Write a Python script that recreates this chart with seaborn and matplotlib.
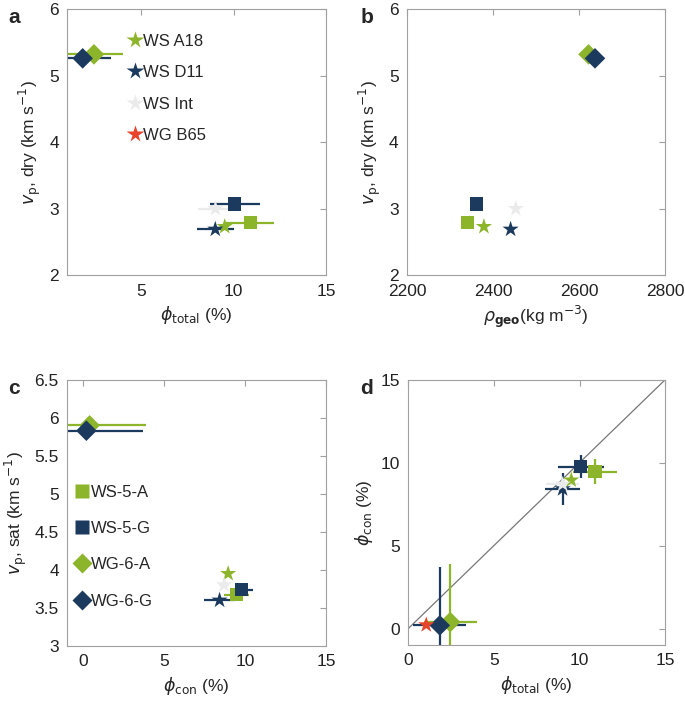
import numpy as np
import pandas as pd
import matplotlib
matplotlib.use("Agg")
import matplotlib.pyplot as plt
import seaborn as sns
from matplotlib.lines import Line2D

samples = ['WS-5-A', 'WS-5-G', 'WG-6-A', 'WG-6-G', 'WS A18', 'WS D11', 'WS Int', 'WG B65']
colors = ['#8cb52b', '#1b3a5e', '#8cb52b', '#1b3a5e', '#8cb52b', '#1b3a5e', '#ebebeb', '#e8432b']
markers = ['s', 's', 'D', 'D', '*', '*', '*', '*']

phi_total = [10.9, 10.07, 2.45, 1.84, 9.52, 9.01, 9.02, 1.05]
phi_total_err = [1.3, 1.35, 1.55, 1.55, 0.2, 1.0, 0.95, 0.0]
phi_con = [9.46, 9.77, 0.39, 0.19, 8.95, 8.42, 8.7, 0.22]
phi_con_err = [0.75, 0.7, 3.5, 3.5, 0.2, 0.95, 0.3, 0.0]
vp_dry = [2.79, 3.07, 5.32, 5.26, 2.73, 2.69, 3.0, np.nan]
vp_sat = [3.67, 3.74, 5.9, 5.83, 3.95, 3.6, 3.8, np.nan]
rho_geo = [2341, 2362, 2622, 2637, 2379, 2441, 2453, np.nan]
rho_geo_err = [8, 8, 0, 0, 0, 0, 0, 0]

df = pd.DataFrame({'sample': samples, 'phi_total': phi_total, 'phi_total_err': phi_total_err,
                   'phi_con': phi_con, 'phi_con_err': phi_con_err, 'vp_dry': vp_dry,
                   'vp_sat': vp_sat, 'rho_geo': rho_geo, 'rho_geo_err': rho_geo_err})

palette = dict(zip(samples, colors))
marker_map = dict(zip(samples, markers))
size_map = {'s': 90, 'D': 110, '*': 150}
sizes = {s: size_map[m] for s, m in zip(samples, markers)}

sns.set_style('white')
plt.rcParams['font.family'] = ['Liberation Sans', 'DejaVu Sans']
plt.rcParams['xtick.direction'] = 'in'
plt.rcParams['ytick.direction'] = 'in'

fig = plt.figure(figsize=(6.85, 7.02), dpi=100)
ax_a = fig.add_axes([0.098, 0.608, 0.378, 0.379])
ax_b = fig.add_axes([0.594, 0.608, 0.377, 0.379])
ax_c = fig.add_axes([0.098, 0.080, 0.378, 0.379])
ax_d = fig.add_axes([0.596, 0.081, 0.375, 0.378])


def panel(ax, x, y, xerr=None, yerr=None):
    sub = df.dropna(subset=[x, y])
    for _, r in sub.iterrows():
        ax.errorbar(r[x], r[y], xerr=r[xerr] if xerr else None, yerr=r[yerr] if yerr else None,
                    fmt='none', ecolor=palette[r['sample']], elinewidth=1.6, capsize=0, zorder=2)
    sns.scatterplot(data=sub, x=x, y=y, hue='sample', style='sample', size='sample',
                    palette=palette, markers=marker_map, sizes=sizes, linewidth=0,
                    legend=False, ax=ax, zorder=3)
    ax.set_xlabel('')
    ax.set_ylabel('')


def style_axes(ax):
    for sp in ax.spines.values():
        sp.set_color('#a0a0a0')
        sp.set_linewidth(0.8)
    ax.tick_params(which='both', top=True, right=True, length=4, width=0.8, pad=6,
                   color='#a0a0a0', labelcolor='#222222', labelsize=12.5)


panel(ax_a, 'phi_total', 'vp_dry', xerr='phi_total_err')
ax_a.set_xlim(1, 15)
ax_a.set_ylim(2, 6)
ax_a.set_xticks([5, 10, 15])
ax_a.set_yticks([2, 3, 4, 5, 6])
ax_a.set_xlabel(r'$\phi_\mathrm{total}$ (%)', fontsize=12.5)
ax_a.set_ylabel(r'$v_\mathrm{p}$, dry (km s$^{-1}$)', fontsize=12.5)

panel(ax_b, 'rho_geo', 'vp_dry', xerr='rho_geo_err')
ax_b.set_xlim(2200, 2800)
ax_b.set_ylim(2, 6)
ax_b.set_xticks([2200, 2400, 2600, 2800])
ax_b.set_yticks([2, 3, 4, 5, 6])
ax_b.set_xlabel(r'$\rho_\mathbf{geo}$(kg m$^{-3}$)', fontsize=12.5)
ax_b.set_ylabel(r'$v_\mathrm{p}$, dry (km s$^{-1}$)', fontsize=12.5)

panel(ax_c, 'phi_con', 'vp_sat', xerr='phi_con_err')
ax_c.set_xlim(-1, 15)
ax_c.set_ylim(3, 6.5)
ax_c.set_xticks([0, 5, 10, 15])
ax_c.set_yticks([3, 3.5, 4, 4.5, 5, 5.5, 6, 6.5])
ax_c.set_yticklabels(['3', '3.5', '4', '4.5', '5', '5.5', '6', '6.5'])
ax_c.set_xlabel(r'$\phi_\mathrm{con}$ (%)', fontsize=12.5)
ax_c.set_ylabel(r'$v_\mathrm{p}$, sat (km s$^{-1}$)', fontsize=12.5)

ax_d.plot([0, 15], [0, 15], color='#777777', lw=0.9, zorder=1)
panel(ax_d, 'phi_total', 'phi_con', xerr='phi_total_err', yerr='phi_con_err')
ax_d.set_xlim(0, 15)
ax_d.set_ylim(-1, 15)
ax_d.set_xticks([0, 5, 10, 15])
ax_d.set_yticks([0, 5, 10, 15])
ax_d.set_xlabel(r'$\phi_\mathrm{total}$ (%)', fontsize=12.5)
ax_d.set_ylabel(r'$\phi_\mathrm{con}$ (%)', fontsize=12.5)

for ax in (ax_a, ax_b, ax_c, ax_d):
    style_axes(ax)

star_names = samples[4:]
h_a = [Line2D([], [], ls='none', marker='*', ms=13, mec='none', mfc=palette[s]) for s in star_names]
ax_a.legend(h_a, star_names, loc='upper left', bbox_to_anchor=(0.23, 0.907), frameon=False,
            borderpad=0, borderaxespad=0, handlelength=1.0, handletextpad=0.0,
            labelspacing=0.98, fontsize=12)

core_names = samples[:4]
h_c = [Line2D([], [], ls='none', marker=marker_map[s], ms=10 if marker_map[s] == 's' else 10,
              mec='none', mfc=palette[s]) for s in core_names]
ax_c.legend(h_c, core_names, loc='upper left', bbox_to_anchor=(0.026, 0.606), frameon=False,
            borderpad=0, borderaxespad=0, handlelength=1.0, handletextpad=0.0,
            labelspacing=1.28, fontsize=12)

for lab, x, y in [('a', 0.012, 0.975), ('b', 0.526, 0.975), ('c', 0.012, 0.447), ('d', 0.526, 0.447)]:
    fig.text(x, y, lab, fontsize=15, fontweight='bold', va='center', ha='left')

fig.savefig('out.png', dpi=100)
